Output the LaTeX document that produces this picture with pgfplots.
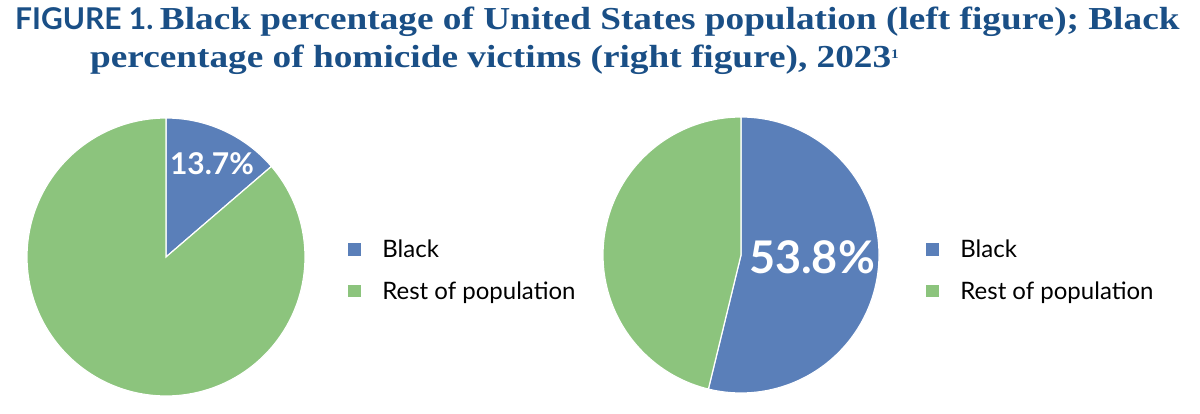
\documentclass[border=0pt]{standalone}
\usepackage{pgfplots}
\pgfplotsset{compat=1.18}
\usepackage{fontspec}
\setmainfont{Lato}
\newfontfamily\titleserif[FakeStretch=1.165]{Liberation Serif}
\definecolor{titleblue}{HTML}{1A4F86}
\definecolor{pieblue}{HTML}{5A7FB9}
\definecolor{piegreen}{HTML}{8CC47D}
\begin{document}
\begin{tikzpicture}
\useasboundingbox (0,0) rectangle (1200pt,414pt);
\pgfplotsset{
  pieax/.style={
    width=1200pt, height=414pt, scale only axis, at={(0,0)}, anchor=south west,
    xmin=0, xmax=1200, ymin=0, ymax=414, y dir=reverse,
    axis lines=none, clip=false,
    legend image code/.code={\fill[##1] (0pt,-7pt) rectangle (14pt,7pt);},
    legend style={draw=none, fill=none, font=\fontsize{24}{28}\selectfont,
      row sep=18pt, inner sep=0pt, anchor=north west,
      /tikz/every odd column/.append style={column sep=18pt},
      legend cell align=left},
  }
}
\begin{axis}[pieax, legend style={at={(axis cs:347,238)}}]
\addplot[fill=pieblue, draw=white, line width=1.2pt, domain=0:49.32, samples=60, variable=\t]
  ({166+139*sin(\t)}, {257-139*cos(\t)}) -- (axis cs:166,257) -- cycle;
\addlegendentry{Black}
\addplot[fill=piegreen, draw=white, line width=1.2pt, domain=49.32:360, samples=200, variable=\t]
  ({166+139*sin(\t)}, {257-139*cos(\t)}) -- (axis cs:166,257) -- cycle;
\addlegendentry{Rest of population}
\node[anchor=base, text=white, font=\fontsize{30}{30}\selectfont\bfseries] at (axis cs:212,175) {13.7\%};
\node[anchor=base west, inner sep=0pt, text=titleblue] at (axis cs:15,30)
  {{\fontsize{30}{30}\selectfont\bfseries FIGURE 1.}\hspace{3pt} {\titleserif\fontsize{32}{32}\selectfont\bfseries Black percentage of United States population (left figure); Black}};
\node[anchor=base west, inner sep=0pt, text=titleblue] at (axis cs:90,68)
  {\titleserif\fontsize{32}{32}\selectfont\bfseries percentage of homicide victims (right figure), 2023\raisebox{9pt}{\fontsize{13}{13}\selectfont 1}};
\end{axis}
\begin{axis}[pieax, legend style={at={(axis cs:925,238)}}]
\addplot[fill=pieblue, draw=white, line width=1.2pt, domain=0:193.68, samples=150, variable=\t]
  ({741+138*sin(\t)}, {255-138*cos(\t)}) -- (axis cs:741,255) -- cycle;
\addlegendentry{Black}
\addplot[fill=piegreen, draw=white, line width=1.2pt, domain=193.68:360, samples=120, variable=\t]
  ({741+138*sin(\t)}, {255-138*cos(\t)}) -- (axis cs:741,255) -- cycle;
\addlegendentry{Rest of population}
\node[anchor=base, text=white, font=\fontsize{45}{45}\selectfont\bfseries] at (axis cs:812,274) {53.8\%};
\end{axis}
\end{tikzpicture}
\end{document}
